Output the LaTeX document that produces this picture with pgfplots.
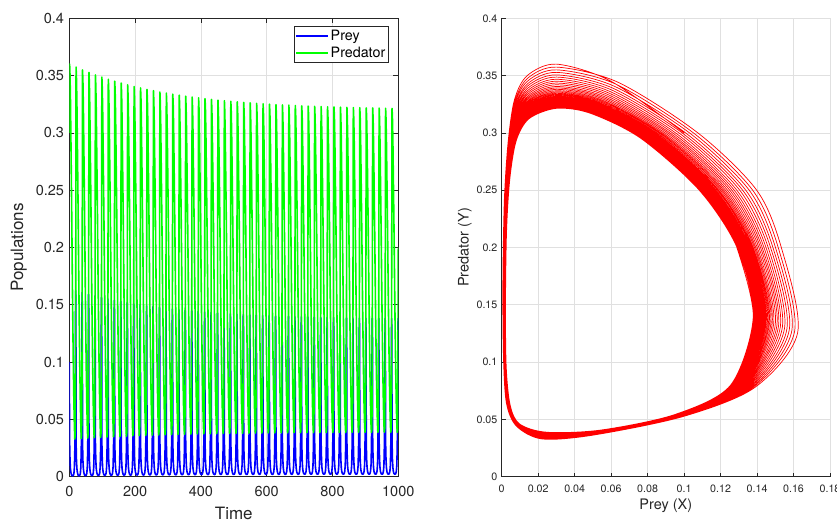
\documentclass[border=0pt]{standalone}
\usepackage{fontspec}
\setmainfont{TeX Gyre Heros}
\usepackage{pgfplots}
\usepackage{pgfplotstable}
\pgfplotsset{compat=1.18}
\definecolor{axgray}{gray}{0.15}
\definecolor{gridgray}{gray}{0.88}

\pgfplotstableread{
t X Y
0 0.1000 0.3000
0.5 0.0600 0.3450
1.0 0.0300 0.3600
2.2 0.0140 0.3500
3.5 0.0070 0.3290
5.0 0.0035 0.2920
7.0 0.0014 0.2400
9.5 0.0006 0.1650
12.0 0.0010 0.1020
14.0 0.0026 0.0640
15.5 0.0081 0.0441
16.7 0.0222 0.0329
17.8 0.0503 0.0363
18.4 0.0997 0.0526
18.9 0.1390 0.0781
19.3 0.1623 0.1260
19.7 0.1533 0.2000
20.0 0.1398 0.2500
20.25 0.1078 0.2997
20.45 0.0639 0.3441
20.6 0.0300 0.3574
21.8 0.0141 0.3475
23.1 0.0071 0.3266
24.6 0.0036 0.2899
26.6 0.0015 0.2383
29.1 0.0007 0.1640
31.6 0.0011 0.1016
33.6 0.0027 0.0639
35.1 0.0083 0.0443
36.3 0.0224 0.0333
37.4 0.0506 0.0366
38.0 0.0994 0.0528
38.5 0.1381 0.0783
38.9 0.1606 0.1269
39.3 0.1516 0.2000
39.6 0.1376 0.2500
39.85 0.1056 0.2994
40.05 0.0629 0.3423
40.2 0.0300 0.3550
41.4 0.0141 0.3451
42.7 0.0071 0.3244
44.2 0.0036 0.2879
46.2 0.0016 0.2368
48.7 0.0008 0.1630
51.2 0.0012 0.1011
53.2 0.0029 0.0638
54.7 0.0084 0.0444
55.9 0.0225 0.0337
57.0 0.0509 0.0369
57.6 0.0991 0.0529
58.1 0.1373 0.0784
58.5 0.1591 0.1277
58.9 0.1501 0.2000
59.2 0.1357 0.2500
59.45 0.1037 0.2991
59.65 0.0619 0.3406
59.8 0.0300 0.3528
61.0 0.0142 0.3429
62.3 0.0072 0.3223
63.8 0.0037 0.2860
65.8 0.0017 0.2353
68.3 0.0009 0.1621
70.8 0.0013 0.1007
72.8 0.0030 0.0636
74.3 0.0085 0.0445
75.5 0.0227 0.0340
76.6 0.0512 0.0372
77.2 0.0988 0.0530
77.7 0.1365 0.0785
78.1 0.1577 0.1285
78.5 0.1487 0.2000
78.8 0.1338 0.2500
79.05 0.1018 0.2988
79.25 0.0610 0.3390
79.4 0.0300 0.3506
80.6 0.0142 0.3409
81.9 0.0072 0.3203
83.4 0.0038 0.2843
85.4 0.0017 0.2339
87.9 0.0010 0.1613
90.4 0.0014 0.1004
92.4 0.0031 0.0635
93.9 0.0086 0.0446
95.1 0.0228 0.0343
96.2 0.0514 0.0374
96.8 0.0986 0.0531
97.3 0.1358 0.0786
97.7 0.1564 0.1292
98.1 0.1474 0.2000
98.4 0.1321 0.2500
98.65 0.1001 0.2986
98.85 0.0602 0.3375
99.0 0.0300 0.3487
100.2 0.0143 0.3390
101.5 0.0073 0.3185
103.0 0.0038 0.2827
105.0 0.0018 0.2326
107.5 0.0011 0.1605
110.0 0.0015 0.1000
112.0 0.0032 0.0634
113.5 0.0087 0.0447
114.7 0.0230 0.0346
115.8 0.0517 0.0377
116.4 0.0984 0.0532
116.9 0.1351 0.0787
117.3 0.1551 0.1300
117.7 0.1461 0.2000
118.0 0.1305 0.2500
118.25 0.0985 0.2984
118.45 0.0594 0.3361
118.6 0.0300 0.3468
119.8 0.0143 0.3371
121.1 0.0073 0.3168
122.6 0.0039 0.2811
124.6 0.0019 0.2314
127.1 0.0011 0.1597
129.6 0.0015 0.0997
131.6 0.0033 0.0633
133.1 0.0087 0.0447
134.3 0.0231 0.0349
135.4 0.0519 0.0379
136.0 0.0981 0.0532
136.5 0.1344 0.0787
136.9 0.1539 0.1306
137.3 0.1449 0.2000
137.6 0.1289 0.2500
137.85 0.0969 0.2981
138.05 0.0587 0.3348
138.2 0.0300 0.3451
139.4 0.0144 0.3355
140.7 0.0074 0.3152
142.2 0.0039 0.2797
144.2 0.0019 0.2303
146.7 0.0012 0.1590
149.2 0.0016 0.0994
151.2 0.0034 0.0633
152.7 0.0088 0.0448
153.9 0.0232 0.0352
155.0 0.0521 0.0381
155.6 0.0979 0.0533
156.1 0.1338 0.0788
156.5 0.1528 0.1312
156.9 0.1438 0.2000
157.2 0.1275 0.2500
157.45 0.0955 0.2979
157.65 0.0580 0.3336
157.8 0.0300 0.3435
159.0 0.0144 0.3339
160.3 0.0074 0.3137
161.8 0.0040 0.2784
163.8 0.0020 0.2293
166.3 0.0013 0.1584
168.8 0.0017 0.0991
170.8 0.0035 0.0632
172.3 0.0089 0.0449
173.5 0.0234 0.0354
174.6 0.0523 0.0383
175.2 0.0977 0.0534
175.7 0.1332 0.0789
176.1 0.1518 0.1318
176.5 0.1428 0.2000
176.8 0.1262 0.2500
177.05 0.0942 0.2977
177.25 0.0573 0.3325
177.4 0.0300 0.3420
178.6 0.0145 0.3324
179.9 0.0075 0.3123
181.4 0.0040 0.2771
183.4 0.0020 0.2283
185.9 0.0013 0.1578
188.4 0.0017 0.0988
190.4 0.0036 0.0631
191.9 0.0090 0.0450
193.1 0.0235 0.0357
194.2 0.0524 0.0384
194.8 0.0976 0.0535
195.3 0.1327 0.0790
195.7 0.1509 0.1323
196.1 0.1419 0.2000
196.4 0.1250 0.2500
196.65 0.0930 0.2976
196.85 0.0567 0.3314
197.0 0.0300 0.3405
198.2 0.0145 0.3310
199.5 0.0075 0.3110
201.0 0.0040 0.2759
203.0 0.0021 0.2273
205.5 0.0014 0.1572
208.0 0.0018 0.0986
210.0 0.0037 0.0630
211.5 0.0090 0.0450
212.7 0.0236 0.0359
213.8 0.0526 0.0386
214.4 0.0974 0.0535
214.9 0.1322 0.0790
215.3 0.1500 0.1328
215.7 0.1410 0.2000
216.0 0.1238 0.2500
216.25 0.0918 0.2974
216.45 0.0562 0.3304
216.6 0.0300 0.3392
217.8 0.0145 0.3297
219.1 0.0075 0.3098
220.6 0.0041 0.2748
222.6 0.0021 0.2265
225.1 0.0014 0.1567
227.6 0.0018 0.0984
229.6 0.0037 0.0630
231.1 0.0091 0.0451
232.3 0.0237 0.0361
233.4 0.0528 0.0388
234.0 0.0972 0.0536
234.5 0.1317 0.0791
234.9 0.1491 0.1333
235.3 0.1401 0.2000
235.6 0.1227 0.2500
235.85 0.0907 0.2972
236.05 0.0556 0.3295
236.2 0.0300 0.3380
237.4 0.0146 0.3285
238.7 0.0076 0.3086
240.2 0.0041 0.2738
242.2 0.0022 0.2257
244.7 0.0015 0.1562
247.2 0.0019 0.0981
249.2 0.0038 0.0629
250.7 0.0092 0.0452
251.9 0.0237 0.0363
253.0 0.0529 0.0389
253.6 0.0971 0.0537
254.1 0.1313 0.0792
254.5 0.1483 0.1337
254.9 0.1393 0.2000
255.2 0.1217 0.2500
255.45 0.0897 0.2971
255.65 0.0551 0.3286
255.8 0.0300 0.3368
257.0 0.0146 0.3274
258.3 0.0076 0.3075
259.8 0.0041 0.2729
261.8 0.0022 0.2249
264.3 0.0015 0.1557
266.8 0.0019 0.0979
268.8 0.0039 0.0628
270.3 0.0092 0.0452
271.5 0.0238 0.0364
272.6 0.0530 0.0390
273.2 0.0970 0.0537
273.7 0.1309 0.0792
274.1 0.1476 0.1341
274.5 0.1386 0.2000
274.8 0.1208 0.2500
275.05 0.0888 0.2970
275.25 0.0547 0.3278
275.4 0.0300 0.3357
276.6 0.0146 0.3263
277.9 0.0076 0.3065
279.4 0.0042 0.2720
281.4 0.0022 0.2242
283.9 0.0016 0.1553
286.4 0.0020 0.0978
288.4 0.0039 0.0628
289.9 0.0093 0.0453
291.1 0.0239 0.0366
292.2 0.0532 0.0392
292.8 0.0968 0.0538
293.3 0.1305 0.0793
293.7 0.1469 0.1345
294.1 0.1379 0.2000
294.4 0.1199 0.2500
294.65 0.0879 0.2968
294.85 0.0543 0.3270
295.0 0.0300 0.3347
296.2 0.0146 0.3254
297.5 0.0076 0.3056
299.0 0.0042 0.2711
301.0 0.0023 0.2236
303.5 0.0016 0.1549
306.0 0.0020 0.0976
308.0 0.0040 0.0627
309.5 0.0093 0.0453
310.7 0.0240 0.0368
311.8 0.0533 0.0393
312.4 0.0967 0.0538
312.9 0.1302 0.0793
313.3 0.1463 0.1348
313.7 0.1373 0.2000
314.0 0.1190 0.2500
314.25 0.0870 0.2967
314.45 0.0538 0.3263
314.6 0.0300 0.3338
315.8 0.0147 0.3244
317.1 0.0077 0.3047
318.6 0.0042 0.2704
320.6 0.0023 0.2229
323.1 0.0016 0.1545
325.6 0.0020 0.0974
327.6 0.0040 0.0627
329.1 0.0094 0.0454
330.3 0.0240 0.0369
331.4 0.0534 0.0394
332.0 0.0966 0.0539
332.5 0.1298 0.0794
332.9 0.1457 0.1352
333.3 0.1367 0.2000
333.6 0.1183 0.2500
333.85 0.0863 0.2966
334.05 0.0535 0.3257
334.2 0.0300 0.3329
335.4 0.0147 0.3236
336.7 0.0077 0.3039
338.2 0.0042 0.2696
340.2 0.0023 0.2224
342.7 0.0017 0.1542
345.2 0.0021 0.0973
347.2 0.0041 0.0626
348.7 0.0094 0.0454
349.9 0.0241 0.0370
351.0 0.0535 0.0395
351.6 0.0965 0.0539
352.1 0.1295 0.0794
352.5 0.1451 0.1355
352.9 0.1361 0.2000
353.2 0.1175 0.2500
353.45 0.0855 0.2965
353.65 0.0531 0.3250
353.8 0.0300 0.3320
355.0 0.0147 0.3227
356.3 0.0077 0.3031
357.8 0.0043 0.2689
359.8 0.0024 0.2218
362.3 0.0017 0.1538
364.8 0.0021 0.0971
366.8 0.0041 0.0626
368.3 0.0094 0.0454
369.5 0.0242 0.0372
370.6 0.0536 0.0396
371.2 0.0964 0.0539
371.7 0.1292 0.0794
372.1 0.1446 0.1358
372.5 0.1356 0.2000
372.8 0.1169 0.2500
373.05 0.0849 0.2964
373.25 0.0528 0.3245
373.4 0.0300 0.3313
374.6 0.0147 0.3220
375.9 0.0077 0.3024
377.4 0.0043 0.2683
379.4 0.0024 0.2213
381.9 0.0017 0.1535
384.4 0.0021 0.0970
386.4 0.0042 0.0626
387.9 0.0095 0.0455
389.1 0.0242 0.0373
390.2 0.0537 0.0397
390.8 0.0963 0.0540
391.3 0.1290 0.0795
391.7 0.1441 0.1360
392.1 0.1351 0.2000
392.4 0.1162 0.2500
392.65 0.0842 0.2963
392.85 0.0525 0.3239
393.0 0.0300 0.3306
394.2 0.0147 0.3213
395.5 0.0077 0.3018
397.0 0.0043 0.2677
399.0 0.0024 0.2209
401.5 0.0018 0.1532
404.0 0.0022 0.0968
406.0 0.0042 0.0625
407.5 0.0095 0.0455
408.7 0.0243 0.0374
409.8 0.0538 0.0398
410.4 0.0962 0.0540
410.9 0.1287 0.0795
411.3 0.1437 0.1363
411.7 0.1347 0.2000
412.0 0.1156 0.2500
412.25 0.0836 0.2962
412.45 0.0522 0.3234
412.6 0.0300 0.3299
413.8 0.0148 0.3206
415.1 0.0078 0.3011
416.6 0.0043 0.2672
418.6 0.0025 0.2204
421.1 0.0018 0.1530
423.6 0.0022 0.0967
425.6 0.0043 0.0625
427.1 0.0095 0.0455
428.3 0.0243 0.0375
429.4 0.0538 0.0398
430.0 0.0962 0.0540
430.5 0.1285 0.0795
430.9 0.1432 0.1365
431.3 0.1342 0.2000
431.6 0.1151 0.2500
431.85 0.0831 0.2962
432.05 0.0519 0.3229
432.2 0.0300 0.3292
433.4 0.0148 0.3200
434.7 0.0078 0.3005
436.2 0.0043 0.2666
438.2 0.0025 0.2200
440.7 0.0018 0.1527
443.2 0.0022 0.0966
445.2 0.0043 0.0625
446.7 0.0096 0.0456
447.9 0.0244 0.0376
449.0 0.0539 0.0399
449.6 0.0961 0.0541
450.1 0.1282 0.0796
450.5 0.1428 0.1368
450.9 0.1338 0.2000
451.2 0.1146 0.2500
451.45 0.0826 0.2961
451.65 0.0517 0.3225
451.8 0.0300 0.3286
453.0 0.0148 0.3194
454.3 0.0078 0.3000
455.8 0.0044 0.2661
457.8 0.0025 0.2196
460.3 0.0019 0.1525
462.8 0.0023 0.0965
464.8 0.0043 0.0624
466.3 0.0096 0.0456
467.5 0.0244 0.0377
468.6 0.0540 0.0400
469.2 0.0960 0.0541
469.7 0.1280 0.0796
470.1 0.1425 0.1370
470.5 0.1335 0.2000
470.8 0.1141 0.2500
471.05 0.0821 0.2960
471.25 0.0514 0.3221
471.4 0.0300 0.3281
472.6 0.0148 0.3189
473.9 0.0078 0.2995
475.4 0.0044 0.2657
477.4 0.0025 0.2193
479.9 0.0019 0.1522
482.4 0.0023 0.0964
484.4 0.0044 0.0624
485.9 0.0096 0.0456
487.1 0.0244 0.0378
488.2 0.0541 0.0401
488.8 0.0959 0.0541
489.3 0.1278 0.0796
489.7 0.1421 0.1372
490.1 0.1331 0.2000
490.4 0.1136 0.2500
490.65 0.0816 0.2959
490.85 0.0512 0.3217
491.0 0.0300 0.3276
492.2 0.0148 0.3184
493.5 0.0078 0.2990
495.0 0.0044 0.2652
497.0 0.0025 0.2189
499.5 0.0019 0.1520
502.0 0.0023 0.0963
504.0 0.0044 0.0624
505.5 0.0096 0.0456
506.7 0.0245 0.0378
507.8 0.0541 0.0401
508.4 0.0959 0.0541
508.9 0.1277 0.0796
509.3 0.1418 0.1373
509.7 0.1328 0.2000
510.0 0.1132 0.2500
510.25 0.0812 0.2959
510.45 0.0510 0.3213
510.6 0.0300 0.3271
511.8 0.0148 0.3179
513.1 0.0078 0.2985
514.6 0.0044 0.2648
516.6 0.0026 0.2186
519.1 0.0019 0.1518
521.6 0.0023 0.0962
523.6 0.0044 0.0624
525.1 0.0097 0.0457
526.3 0.0245 0.0379
527.4 0.0542 0.0402
528.0 0.0958 0.0542
528.5 0.1275 0.0797
528.9 0.1415 0.1375
529.3 0.1325 0.2000
529.6 0.1128 0.2500
529.85 0.0808 0.2958
530.05 0.0508 0.3210
530.2 0.0300 0.3266
531.4 0.0148 0.3174
532.7 0.0078 0.2981
534.2 0.0044 0.2644
536.2 0.0026 0.2183
538.7 0.0019 0.1516
541.2 0.0023 0.0962
543.2 0.0044 0.0623
544.7 0.0097 0.0457
545.9 0.0245 0.0380
547.0 0.0542 0.0402
547.6 0.0958 0.0542
548.1 0.1273 0.0797
548.5 0.1412 0.1377
548.9 0.1322 0.2000
549.2 0.1124 0.2500
549.45 0.0804 0.2958
549.65 0.0506 0.3207
549.8 0.0300 0.3262
551.0 0.0148 0.3170
552.3 0.0078 0.2977
553.8 0.0044 0.2641
555.8 0.0026 0.2180
558.3 0.0020 0.1515
560.8 0.0024 0.0961
562.8 0.0045 0.0623
564.3 0.0097 0.0457
565.5 0.0246 0.0381
566.6 0.0543 0.0403
567.2 0.0957 0.0542
567.7 0.1272 0.0797
568.1 0.1409 0.1378
568.5 0.1319 0.2000
568.8 0.1121 0.2500
569.05 0.0801 0.2957
569.25 0.0505 0.3204
569.4 0.0300 0.3258
570.6 0.0149 0.3167
571.9 0.0079 0.2974
573.4 0.0044 0.2638
575.4 0.0026 0.2178
577.9 0.0020 0.1513
580.4 0.0024 0.0960
582.4 0.0045 0.0623
583.9 0.0097 0.0457
585.1 0.0246 0.0381
586.2 0.0543 0.0403
586.8 0.0957 0.0542
587.3 0.1270 0.0797
587.7 0.1406 0.1380
588.1 0.1316 0.2000
588.4 0.1117 0.2500
588.65 0.0797 0.2957
588.85 0.0503 0.3201
589.0 0.0300 0.3254
590.2 0.0149 0.3163
591.5 0.0079 0.2970
593.0 0.0045 0.2635
595.0 0.0026 0.2175
597.5 0.0020 0.1512
600.0 0.0024 0.0959
602.0 0.0045 0.0623
603.5 0.0097 0.0457
604.7 0.0246 0.0382
605.8 0.0544 0.0404
606.4 0.0956 0.0542
606.9 0.1269 0.0797
607.3 0.1404 0.1381
607.7 0.1314 0.2000
608.0 0.1114 0.2500
608.25 0.0794 0.2956
608.45 0.0502 0.3198
608.6 0.0300 0.3251
609.8 0.0149 0.3160
611.1 0.0079 0.2967
612.6 0.0045 0.2632
614.6 0.0026 0.2173
617.1 0.0020 0.1510
619.6 0.0024 0.0959
621.6 0.0045 0.0623
623.1 0.0098 0.0458
624.3 0.0246 0.0382
625.4 0.0544 0.0404
626.0 0.0956 0.0543
626.5 0.1268 0.0798
626.9 0.1402 0.1382
627.3 0.1312 0.2000
627.6 0.1111 0.2500
627.85 0.0791 0.2956
628.05 0.0500 0.3195
628.2 0.0300 0.3247
629.4 0.0149 0.3156
630.7 0.0079 0.2964
632.2 0.0045 0.2629
634.2 0.0026 0.2171
636.7 0.0020 0.1509
639.2 0.0024 0.0958
641.2 0.0045 0.0622
642.7 0.0098 0.0458
643.9 0.0247 0.0383
645.0 0.0544 0.0404
645.6 0.0956 0.0543
646.1 0.1267 0.0798
646.5 0.1400 0.1383
646.9 0.1310 0.2000
647.2 0.1109 0.2500
647.45 0.0789 0.2956
647.65 0.0499 0.3193
647.8 0.0300 0.3244
649.0 0.0149 0.3153
650.3 0.0079 0.2961
651.8 0.0045 0.2627
653.8 0.0026 0.2169
656.3 0.0020 0.1508
658.8 0.0024 0.0958
660.8 0.0046 0.0622
662.3 0.0098 0.0458
663.5 0.0247 0.0383
664.6 0.0545 0.0405
665.2 0.0955 0.0543
665.7 0.1266 0.0798
666.1 0.1398 0.1384
666.5 0.1308 0.2000
666.8 0.1106 0.2500
667.05 0.0786 0.2955
667.25 0.0498 0.3191
667.4 0.0300 0.3242
668.6 0.0149 0.3151
669.9 0.0079 0.2958
671.4 0.0045 0.2624
673.4 0.0027 0.2167
675.9 0.0020 0.1507
678.4 0.0024 0.0957
680.4 0.0046 0.0622
681.9 0.0098 0.0458
683.1 0.0247 0.0384
684.2 0.0545 0.0405
684.8 0.0955 0.0543
685.3 0.1265 0.0798
685.7 0.1396 0.1385
686.1 0.1306 0.2000
686.4 0.1104 0.2500
686.65 0.0784 0.2955
686.85 0.0496 0.3189
687.0 0.0300 0.3239
688.2 0.0149 0.3148
689.5 0.0079 0.2956
691.0 0.0045 0.2622
693.0 0.0027 0.2165
695.5 0.0020 0.1506
698.0 0.0024 0.0957
700.0 0.0046 0.0622
701.5 0.0098 0.0458
702.7 0.0247 0.0384
703.8 0.0545 0.0405
704.4 0.0955 0.0543
704.9 0.1264 0.0798
705.3 0.1395 0.1386
705.7 0.1305 0.2000
706.0 0.1102 0.2500
706.25 0.0782 0.2955
706.45 0.0495 0.3187
706.6 0.0300 0.3236
707.8 0.0149 0.3145
709.1 0.0079 0.2954
710.6 0.0045 0.2620
712.6 0.0027 0.2164
715.1 0.0021 0.1505
717.6 0.0025 0.0956
719.6 0.0046 0.0622
721.1 0.0098 0.0458
722.3 0.0247 0.0384
723.4 0.0546 0.0406
724.0 0.0954 0.0543
724.5 0.1263 0.0798
724.9 0.1393 0.1387
725.3 0.1303 0.2000
725.6 0.1100 0.2500
725.85 0.0780 0.2954
726.05 0.0494 0.3186
726.2 0.0300 0.3234
727.4 0.0149 0.3143
728.7 0.0079 0.2951
730.2 0.0045 0.2618
732.2 0.0027 0.2162
734.7 0.0021 0.1504
737.2 0.0025 0.0956
739.2 0.0046 0.0622
740.7 0.0098 0.0458
741.9 0.0248 0.0385
743.0 0.0546 0.0406
743.6 0.0954 0.0543
744.1 0.1262 0.0798
744.5 0.1391 0.1388
744.9 0.1301 0.2000
745.2 0.1098 0.2500
745.45 0.0778 0.2954
745.65 0.0493 0.3184
745.8 0.0300 0.3232
747.0 0.0149 0.3141
748.3 0.0079 0.2949
749.8 0.0045 0.2616
751.8 0.0027 0.2161
754.3 0.0021 0.1503
756.8 0.0025 0.0956
758.8 0.0046 0.0622
760.3 0.0099 0.0459
761.5 0.0248 0.0385
762.6 0.0546 0.0406
763.2 0.0954 0.0544
763.7 0.1261 0.0799
764.1 0.1390 0.1389
764.5 0.1300 0.2000
764.8 0.1096 0.2500
765.05 0.0776 0.2954
765.25 0.0493 0.3182
765.4 0.0300 0.3230
766.6 0.0149 0.3139
767.9 0.0079 0.2947
769.4 0.0045 0.2614
771.4 0.0027 0.2159
773.9 0.0021 0.1502
776.4 0.0025 0.0955
778.4 0.0046 0.0621
779.9 0.0099 0.0459
781.1 0.0248 0.0386
782.2 0.0547 0.0407
782.8 0.0953 0.0544
783.3 0.1260 0.0799
783.7 0.1389 0.1390
784.1 0.1299 0.2000
784.4 0.1094 0.2500
784.65 0.0774 0.2953
784.85 0.0492 0.3181
785.0 0.0300 0.3228
786.2 0.0149 0.3137
787.5 0.0079 0.2946
789.0 0.0045 0.2613
791.0 0.0027 0.2158
793.5 0.0021 0.1501
796.0 0.0025 0.0955
798.0 0.0046 0.0621
799.5 0.0099 0.0459
800.7 0.0248 0.0386
801.8 0.0547 0.0407
802.4 0.0953 0.0544
802.9 0.1260 0.0799
803.3 0.1388 0.1390
803.7 0.1298 0.2000
804.0 0.1093 0.2500
804.25 0.0773 0.2953
804.45 0.0491 0.3180
804.6 0.0300 0.3226
805.8 0.0149 0.3135
807.1 0.0079 0.2944
808.6 0.0045 0.2611
810.6 0.0027 0.2157
813.1 0.0021 0.1500
815.6 0.0025 0.0955
817.6 0.0046 0.0621
819.1 0.0099 0.0459
820.3 0.0248 0.0386
821.4 0.0547 0.0407
822.0 0.0953 0.0544
822.5 0.1259 0.0799
822.9 0.1386 0.1391
823.3 0.1296 0.2000
823.6 0.1091 0.2500
823.85 0.0771 0.2953
824.05 0.0490 0.3178
824.2 0.0300 0.3224
825.4 0.0149 0.3134
826.7 0.0079 0.2943
828.2 0.0045 0.2610
830.2 0.0027 0.2156
832.7 0.0021 0.1500
835.2 0.0025 0.0954
837.2 0.0046 0.0621
838.7 0.0099 0.0459
839.9 0.0248 0.0386
841.0 0.0547 0.0407
841.6 0.0953 0.0544
842.1 0.1259 0.0799
842.5 0.1385 0.1391
842.9 0.1295 0.2000
843.2 0.1090 0.2500
843.45 0.0770 0.2953
843.65 0.0490 0.3177
843.8 0.0300 0.3223
845.0 0.0149 0.3132
846.3 0.0079 0.2941
847.8 0.0045 0.2609
849.8 0.0027 0.2155
852.3 0.0021 0.1499
854.8 0.0025 0.0954
856.8 0.0046 0.0621
858.3 0.0099 0.0459
859.5 0.0248 0.0387
860.6 0.0547 0.0407
861.2 0.0953 0.0544
861.7 0.1258 0.0799
862.1 0.1384 0.1392
862.5 0.1294 0.2000
862.8 0.1089 0.2500
863.05 0.0769 0.2953
863.25 0.0489 0.3176
863.4 0.0300 0.3221
864.6 0.0149 0.3131
865.9 0.0079 0.2940
867.4 0.0045 0.2607
869.4 0.0027 0.2154
871.9 0.0021 0.1498
874.4 0.0025 0.0954
876.4 0.0046 0.0621
877.9 0.0099 0.0459
879.1 0.0249 0.0387
880.2 0.0548 0.0408
880.8 0.0953 0.0544
881.3 0.1258 0.0799
881.7 0.1384 0.1393
882.1 0.1294 0.2000
882.4 0.1088 0.2500
882.65 0.0768 0.2953
882.85 0.0489 0.3175
883.0 0.0300 0.3220
884.2 0.0150 0.3130
885.5 0.0080 0.2939
887.0 0.0045 0.2607
889.0 0.0027 0.2153
891.5 0.0021 0.1498
894.0 0.0025 0.0954
896.0 0.0047 0.0621
897.5 0.0099 0.0459
898.7 0.0249 0.0387
899.8 0.0548 0.0408
900.4 0.0952 0.0544
900.9 0.1257 0.0799
901.3 0.1382 0.1393
901.7 0.1292 0.2000
902.0 0.1086 0.2500
902.25 0.0766 0.2952
902.45 0.0488 0.3174
902.6 0.0300 0.3218
903.8 0.0150 0.3128
905.1 0.0080 0.2937
906.6 0.0045 0.2605
908.6 0.0027 0.2152
911.1 0.0021 0.1497
913.6 0.0025 0.0953
915.6 0.0047 0.0621
917.1 0.0099 0.0459
918.3 0.0249 0.0387
919.4 0.0548 0.0408
920.0 0.0952 0.0544
920.5 0.1257 0.0799
920.9 0.1382 0.1393
921.3 0.1292 0.2000
921.6 0.1085 0.2500
921.85 0.0765 0.2952
922.05 0.0487 0.3173
922.2 0.0300 0.3218
923.4 0.0150 0.3127
924.7 0.0080 0.2936
926.2 0.0045 0.2605
928.2 0.0027 0.2151
930.7 0.0021 0.1497
933.2 0.0025 0.0953
935.2 0.0047 0.0621
936.7 0.0099 0.0459
937.9 0.0249 0.0387
939.0 0.0548 0.0408
939.6 0.0952 0.0544
940.1 0.1256 0.0799
940.5 0.1381 0.1394
940.9 0.1291 0.2000
941.2 0.1084 0.2500
941.45 0.0764 0.2952
941.65 0.0487 0.3172
941.8 0.0300 0.3216
943.0 0.0150 0.3126
944.3 0.0080 0.2935
945.8 0.0045 0.2604
947.8 0.0027 0.2151
950.3 0.0021 0.1497
952.8 0.0025 0.0953
954.8 0.0047 0.0621
956.3 0.0099 0.0459
957.5 0.0249 0.0388
958.6 0.0548 0.0408
959.2 0.0952 0.0544
959.7 0.1256 0.0799
960.1 0.1380 0.1394
960.5 0.1290 0.2000
960.8 0.1083 0.2500
961.05 0.0763 0.2952
961.25 0.0486 0.3171
961.4 0.0300 0.3215
962.6 0.0150 0.3125
963.9 0.0080 0.2934
965.4 0.0045 0.2603
967.4 0.0027 0.2150
969.9 0.0021 0.1496
972.4 0.0025 0.0953
974.4 0.0047 0.0621
975.9 0.0099 0.0459
977.1 0.0249 0.0388
978.2 0.0548 0.0408
978.8 0.0952 0.0544
979.3 0.1255 0.0799
979.7 0.1380 0.1395
980.1 0.1290 0.2000
980.4 0.1083 0.2500
980.65 0.0763 0.2952
980.85 0.0486 0.3171
981.0 0.0300 0.3214
982.2 0.0150 0.3124
983.5 0.0080 0.2933
985.0 0.0045 0.2602
987.0 0.0027 0.2149
989.5 0.0021 0.1496
992.0 0.0025 0.0953
994.0 0.0047 0.0621
995.5 0.0099 0.0459
996.7 0.0249 0.0388
997.8 0.0548 0.0408
998.4 0.0952 0.0544
998.9 0.1255 0.0799
999.3 0.1379 0.1395
1000.0 0.1289 0.2000
}\trajdata

\pgfplotsset{
  matstyle/.style={
    scale only axis, anchor=south west,
    tick align=inside,
    axis line style={axgray, line width=0.6pt, -},
    every tick/.style={axgray, line width=0.6pt},
    grid=major,
    major grid style={gridgray, line width=0.6pt},
    scaled ticks=false,
    /pgf/number format/fixed,
    /pgf/number format/precision=2,
    /pgf/number format/1000 sep={},
    /pgf/number format/assume math mode=true,
    ticklabel style={text=axgray},
    label style={text=axgray, inner sep=0pt},
  }
}

\begin{document}
\begin{tikzpicture}
\begin{axis}[matstyle,
  at={(69.3pt,49.3pt)}, width=329pt, height=458.4pt,
  xmin=0, xmax=1000, ymin=0, ymax=0.4,
  xtick={0,200,400,600,800,1000},
  ytick={0,0.05,0.1,0.15,0.2,0.25,0.3,0.35,0.4},
  major tick length=5pt,
  ticklabel style={font=\fontsize{14.5}{16}\selectfont},
  xticklabel style={yshift=-5.5pt},
  yticklabel style={xshift=-1.8pt},
  xlabel={Time}, ylabel={Populations},
  label style={font=\fontsize{17}{20}\selectfont},
  xlabel style={at={(axis description cs:0.5,-0.066)}, anchor=north},
  ylabel style={at={(axis description cs:-0.1286,0.5)}, anchor=south},
  legend style={at={(axis description cs:0.9717,0.9836)}, anchor=north east,
    draw, color=axgray, line width=0.6pt, fill=white,
    font=\fontsize{14.3}{16}\selectfont, text=black,
    inner xsep=1.5pt, inner ysep=1.2pt, row sep=0pt,
    nodes={inner ysep=2.6pt, inner xsep=1.9pt},
    cells={anchor=west}},
  legend image code/.code={\draw[#1, line width=1.6pt] (0pt,0pt) -- (31.6pt,0pt);},
]
\addplot[blue, line width=1.6pt, line join=round] table[x=t, y=X]{\trajdata};
\addlegendentry{Prey}
\addplot[green, line width=1.6pt, line join=round] table[x=t, y=Y]{\trajdata};
\addlegendentry{Predator}
\end{axis}

\begin{axis}[matstyle,
  at={(501.7pt,49.3pt)}, width=328.3pt, height=458.4pt,
  xmin=0, xmax=0.18, ymin=0, ymax=0.4,
  axis x line*=bottom, axis y line*=left,
  xtick={0,0.02,0.04,0.06,0.08,0.1,0.12,0.14,0.16,0.18},
  ytick={0,0.05,0.1,0.15,0.2,0.25,0.3,0.35,0.4},
  major tick length=4pt,
  ticklabel style={font=\fontsize{10.7}{12}\selectfont},
  xticklabel style={yshift=-4.5pt},
  yticklabel style={xshift=-0.8pt},
  xlabel={Prey (X)}, ylabel={Predator (Y)},
  label style={font=\fontsize{14.5}{17}\selectfont},
  xlabel style={at={(axis description cs:0.5,-0.0487)}, anchor=north},
  ylabel style={at={(axis description cs:-0.0905,0.5)}, anchor=south},
]
\addplot[red, line width=0.7pt, line join=round, smooth] table[x=X, y=Y]{\trajdata};
\end{axis}
\pgfresetboundingbox
\useasboundingbox (0pt,0pt) rectangle (837pt,526pt);
\end{tikzpicture}
\end{document}
